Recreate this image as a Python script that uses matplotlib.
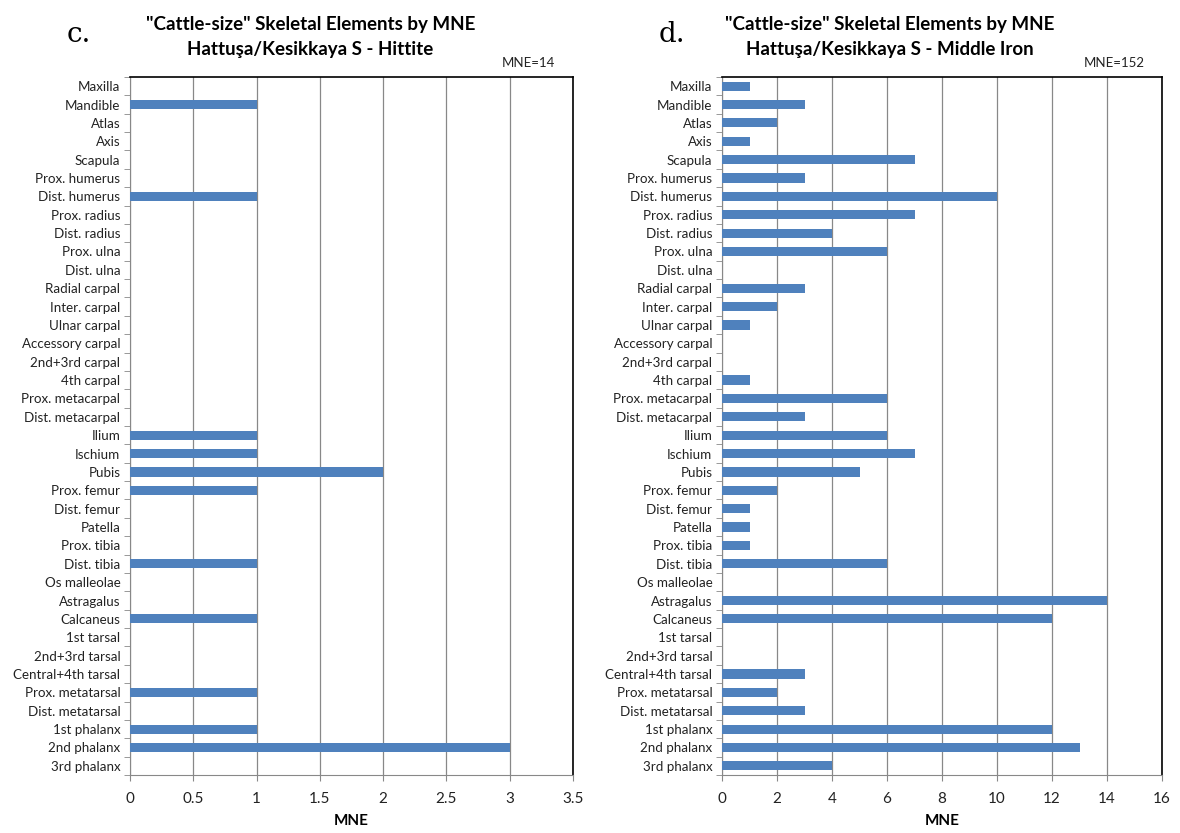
import numpy as np
import matplotlib.pyplot as plt

plt.rcParams['font.family'] = ['Lato', 'DejaVu Sans']

elements = ['Maxilla', 'Mandible', 'Atlas', 'Axis', 'Scapula', 'Prox. humerus',
            'Dist. humerus', 'Prox. radius', 'Dist. radius', 'Prox. ulna', 'Dist. ulna',
            'Radial carpal', 'Inter. carpal', 'Ulnar carpal', 'Accessory carpal',
            '2nd+3rd carpal', '4th carpal', 'Prox. metacarpal', 'Dist. metacarpal',
            'Ilium', 'Ischium', 'Pubis', 'Prox. femur', 'Dist. femur', 'Patella',
            'Prox. tibia', 'Dist. tibia', 'Os malleolae', 'Astragalus', 'Calcaneus',
            '1st tarsal', '2nd+3rd tarsal', 'Central+4th tarsal', 'Prox. metatarsal',
            'Dist. metatarsal', '1st phalanx', '2nd phalanx', '3rd phalanx']

hittite = [0, 1, 0, 0, 0, 0, 1, 0, 0, 0, 0, 0, 0, 0, 0, 0, 0, 0, 0,
           1, 1, 2, 1, 0, 0, 0, 1, 0, 0, 1, 0, 0, 0, 1, 0, 1, 3, 0]
middle_iron = [1, 3, 2, 1, 7, 3, 10, 7, 4, 6, 0, 3, 2, 1, 0, 0, 1, 6, 3,
               6, 7, 5, 2, 1, 1, 1, 6, 0, 14, 12, 0, 0, 3, 2, 3, 12, 13, 4]

panels = [
    ('c.', 'Hattuşa/Kesikkaya S - Hittite', hittite, 'MNE=14',
     np.arange(0, 3.51, 0.5), ['0', '0.5', '1', '1.5', '2', '2.5', '3', '3.5'],
     [0.1102, 0.0696, 0.3754, 0.838], 0.263),
    ('d.', 'Hattuşa/Kesikkaya S - Middle Iron', middle_iron, 'MNE=152',
     np.arange(0, 17, 2), [str(v) for v in range(0, 17, 2)],
     [0.6119, 0.0696, 0.3729, 0.838], 0.754),
]

bar_color = '#4F81BD'
fig = plt.figure(figsize=(11.8, 8.33), dpi=100)

for letter, subtitle, vals, total, xt, xtl, pos, cx in panels:
    ax = fig.add_axes(pos)
    y = np.arange(len(elements))
    ax.barh(y, vals, height=0.5, color=bar_color, zorder=3)
    ax.set_ylim(len(elements) - 0.5, -0.5)
    ax.set_xlim(xt[0], xt[-1])
    ax.set_xticks(xt)
    ax.set_xticklabels(xtl, fontsize=11, color='#222222')
    ax.set_yticks(y)
    ax.set_yticklabels(elements, fontsize=9.6, color='#222222')
    ax.set_yticks(np.arange(len(elements) + 1) - 0.5, minor=True)
    ax.tick_params(axis='y', which='major', length=0, pad=7)
    ax.tick_params(axis='y', which='minor', length=4, color='#888888', direction='out')
    ax.tick_params(axis='x', length=4, color='#888888', direction='out', pad=8)
    ax.grid(axis='x', color='#888888', linewidth=0.9, zorder=0)
    for s in ['left', 'bottom']:
        ax.spines[s].set_color('#888888')
    for s in ['right', 'top']:
        ax.spines[s].set_color('black')
        ax.spines[s].set_linewidth(1.2)
    ax.set_xlabel('MNE', fontsize=11, fontweight='bold', labelpad=6)
    ax.text(0.96, 1.012, total, transform=ax.transAxes, ha='right', va='bottom',
            fontsize=9.5, color='#222222')
    fig.text(cx, 0.981, '"Cattle-size" Skeletal Elements by MNE', ha='center',
             va='top', fontsize=13.5, fontweight='bold')
    fig.text(cx, 0.951, subtitle, ha='center', va='top', fontsize=13.5,
             fontweight='bold')
    fig.text(pos[0] - 0.054, 0.958, letter, ha='left', va='center', fontsize=20,
             family='DejaVu Serif')

fig.savefig('out.png', dpi=100)
